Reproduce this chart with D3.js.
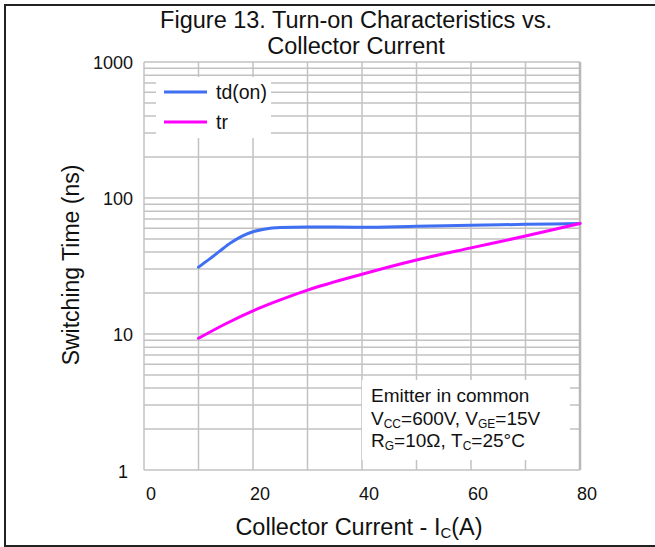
<!DOCTYPE html>
<html>
<head>
<meta charset="utf-8">
<script src="https://cdn.jsdelivr.net/npm/d3@7"></script>
<style>
  html, body { margin: 0; padding: 0; background: #fff; }
  svg { display: block; font-family: "Liberation Sans", Arial, sans-serif; }
</style>
</head>
<body>
<svg id="chart" width="655" height="547"></svg>
<script>
// Turn-on delay time td(on), read at these collector currents (A)
const tdCurrents = [10, 12, 14, 16, 18, 20, 22, 25, 30, 40, 50, 60, 70, 80];
const tdOn       = [31, 35.5, 41, 47, 52.5, 56.5, 59, 60.8, 61.3, 61, 62, 63, 64, 65];

// Rise time tr, read at these collector currents (A)
const trCurrents = [10, 15, 20, 25, 30, 40, 50, 60, 70, 80];
const tr         = [9.3, 11.9, 14.8, 17.8, 21, 27.5, 35, 43, 52.5, 65];

const xTicks = [0, 20, 40, 60, 80];
const xGrid  = [0, 10, 20, 30, 40, 50, 60, 70, 80];
const yTicks = [1, 10, 100, 1000];

const seriesNames  = ["td(on)", "tr"];
const seriesColors = ["#3f6ff2", "#ff00ff"];

const svg = d3.select("#chart");
const plot = { left: 144, right: 580, top: 62, bottom: 470 };

const x = d3.scaleLinear().domain([0, 80]).range([plot.left, plot.right]);
const y = d3.scaleLog().domain([1, 1000]).range([plot.bottom, plot.top]);

// outer frame
svg.append("rect")
  .attr("x", 5).attr("y", 5).attr("width", 670).attr("height", 541)
  .attr("fill", "none").attr("stroke", "#222").attr("stroke-width", 2);

// grid: log minor/major lines and vertical lines every 10 A
const yGridVals = [];
for (let d = 1; d < 1000; d *= 10) for (let k = 1; k <= 9; k++) yGridVals.push(d * k);
yGridVals.push(1000);

const grid = svg.append("g").attr("stroke", "#c2c2c2").attr("stroke-width", 1.5);
grid.selectAll("line.h").data(yGridVals).join("line")
  .attr("class", "h")
  .attr("x1", plot.left).attr("x2", plot.right)
  .attr("y1", d => y(d)).attr("y2", d => y(d));
grid.selectAll("line.v").data(xGrid).join("line")
  .attr("class", "v")
  .attr("x1", d => x(d)).attr("x2", d => x(d))
  .attr("y1", plot.top).attr("y2", plot.bottom);
svg.append("line")
  .attr("x1", plot.right).attr("x2", plot.right)
  .attr("y1", plot.top).attr("y2", plot.bottom)
  .attr("stroke", "#b8b8b8").attr("stroke-width", 2.5);

// curves
const line = d3.line()
  .x(d => x(d[0])).y(d => y(d[1]))
  .curve(d3.curveMonotoneX);
const series = [
  tdCurrents.map((c, j) => [c, tdOn[j]]),
  trCurrents.map((c, j) => [c, tr[j]])
];
series.forEach((pts, i) => {
  svg.append("path")
    .datum(pts)
    .attr("fill", "none")
    .attr("stroke", seriesColors[i])
    .attr("stroke-width", 3)
    .attr("stroke-linecap", "round")
    .attr("d", line);
});

// legend
const legend = svg.append("g");
legend.append("rect")
  .attr("x", 156).attr("y", 77).attr("width", 115).attr("height", 61)
  .attr("fill", "#fff");
seriesNames.forEach((name, i) => {
  const ly = 92 + i * 30;
  legend.append("line")
    .attr("x1", 164).attr("x2", 207).attr("y1", ly).attr("y2", ly)
    .attr("stroke", seriesColors[i]).attr("stroke-width", 3);
  legend.append("text")
    .attr("x", 216).attr("y", ly + 7)
    .attr("font-size", 19.5).attr("fill", "#111")
    .text(name);
});

// test conditions box
const note = svg.append("g");
note.append("rect")
  .attr("x", 362).attr("y", 380).attr("width", 208).attr("height", 80)
  .attr("fill", "#fff");
const noteLines = [
  [["Emitter in common", false]],
  [["V", false], ["CC", true], ["=600V, V", false], ["GE", true], ["=15V", false]],
  [["R", false], ["G", true], ["=10Ω, T", false], ["C", true], ["=25°C", false]]
];
noteLines.forEach((parts, i) => {
  const t = note.append("text")
    .attr("x", 371).attr("y", 402 + i * 22.5)
    .attr("font-size", 19).attr("fill", "#111");
  parts.forEach(([s, sub], j) => {
    const prevSub = j > 0 && parts[j - 1][1];
    t.append("tspan")
      .attr("font-size", sub ? 12 : 19)
      .attr("dy", sub ? 3 : (prevSub ? -3 : 0))
      .text(s);
  });
});

// axis tick labels
svg.append("g").selectAll("text").data(xTicks).join("text")
  .attr("x", d => x(d) + 7).attr("y", 500)
  .attr("text-anchor", "middle").attr("font-size", 18).attr("fill", "#111")
  .text(d => d);
svg.append("g").selectAll("text").data(yTicks).join("text")
  .attr("x", d => d === 1 ? 128 : 133)
  .attr("y", d => y(d) + (d === 1 ? 8 : 6.5))
  .attr("text-anchor", "end").attr("font-size", 18).attr("fill", "#111")
  .text(d => d);

// axis titles
const xt = svg.append("text")
  .attr("x", 359).attr("y", 535)
  .attr("text-anchor", "middle").attr("font-size", 23.5).attr("fill", "#111");
xt.append("tspan").text("Collector Current - I");
xt.append("tspan").attr("font-size", 15).attr("dy", 3).text("C");
xt.append("tspan").attr("dy", -3).text("(A)");

svg.append("text")
  .attr("transform", "translate(79,265) rotate(-90)")
  .attr("text-anchor", "middle").attr("font-size", 23).attr("fill", "#111")
  .text("Switching Time (ns)");

// title
const title = svg.append("text")
  .attr("text-anchor", "middle").attr("font-size", 23.5).attr("fill", "#111");
title.append("tspan").attr("x", 356).attr("y", 28).text("Figure 13. Turn-on Characteristics vs.");
title.append("tspan").attr("x", 356).attr("y", 54).text("Collector Current");
</script>
</body>
</html>
